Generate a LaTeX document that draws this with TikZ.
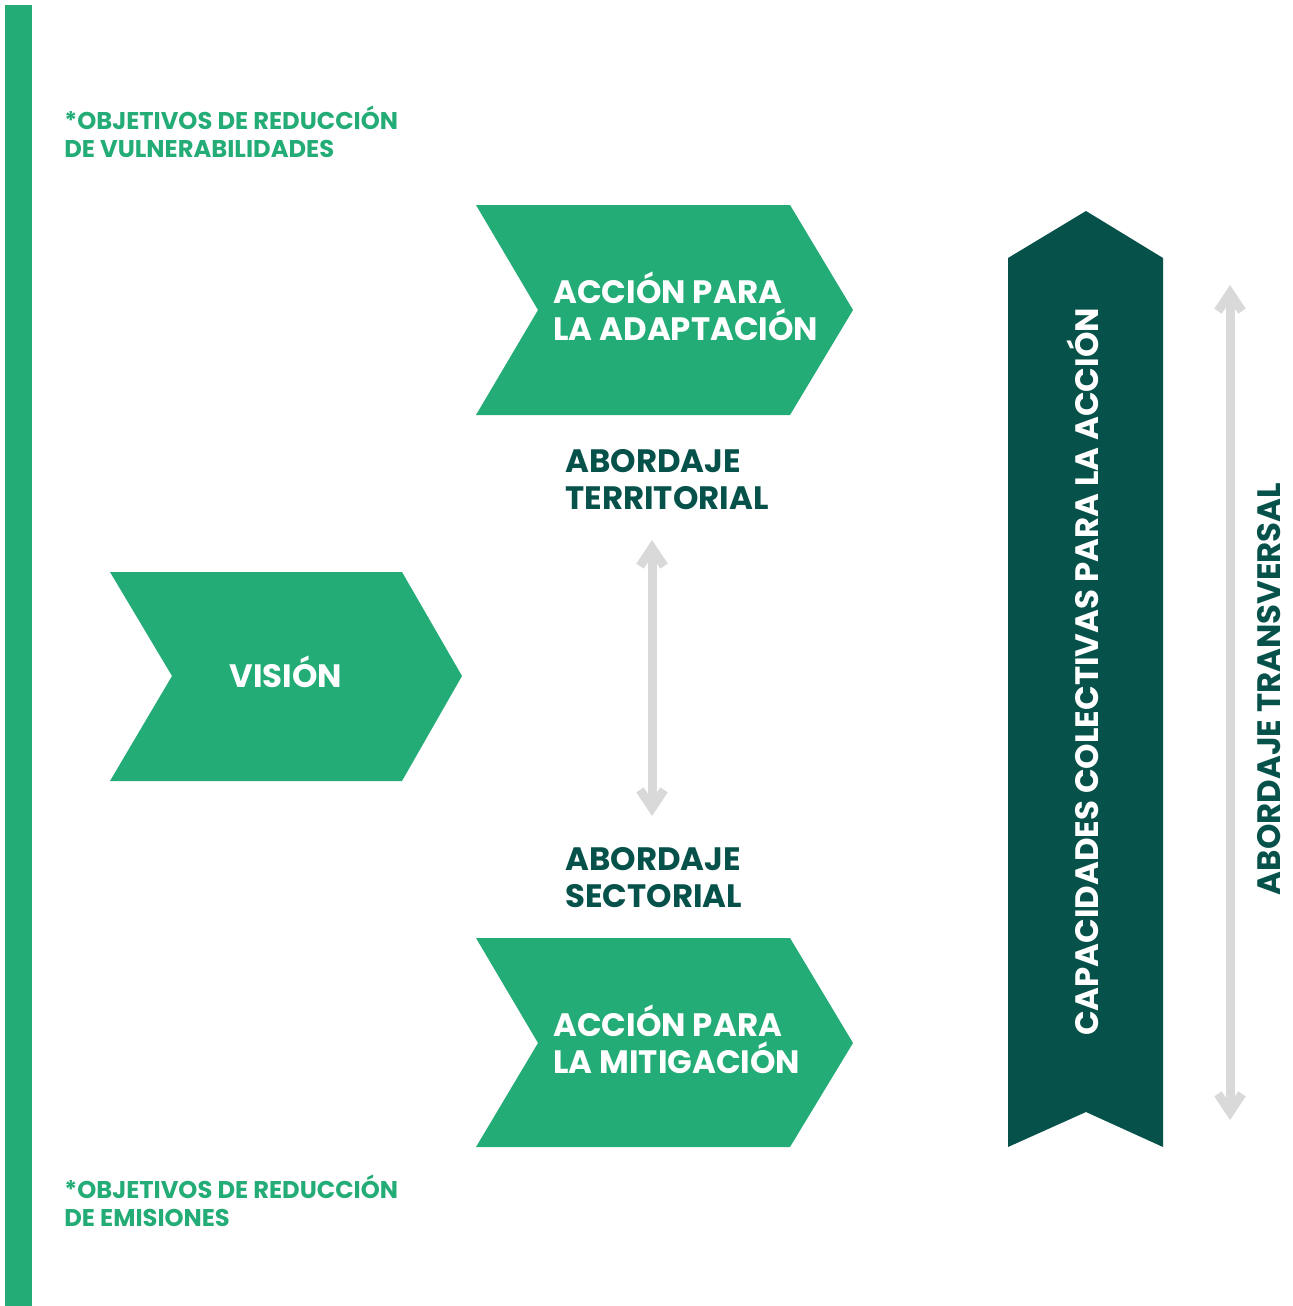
\documentclass[tikz,border=0pt]{standalone}
\usepackage{fontspec}
\setmainfont{Poppins}
\usetikzlibrary{arrows.meta}

\definecolor{leafgreen}{HTML}{23AC76}
\definecolor{darkteal}{HTML}{06524B}
\definecolor{softgray}{HTML}{D9D9D9}

\tikzset{
  chevron/.style={fill=leafgreen},
  banner/.style={fill=darkteal},
  boxtext/.style={text=white, font=\bfseries\fontsize{16.2}{18.5}\selectfont, align=left, anchor=west, inner sep=0pt},
  labeltext/.style={text=darkteal, font=\bfseries\fontsize{16.2}{18.5}\selectfont, align=left, anchor=west, inner sep=0pt},
  goaltext/.style={text=leafgreen, font=\bfseries\fontsize{12.1}{14}\selectfont, align=left, anchor=west, inner sep=0pt},
  twoway/.style={softgray, line width=4.5pt,
    {Straight Barb[length=9pt,width=12pt]}-{Straight Barb[length=9pt,width=12pt]}}
}

\begin{document}
\begin{tikzpicture}[x=0.5pt, y=-0.5pt]
  \useasboundingbox (0,0) rectangle (1293,1306);

  % side bar
  \fill[leafgreen] (5,5) rectangle (32,1306);

  % chevrons
  \fill[chevron] (476,205) -- (790,205) -- (853,310) -- (790,415) -- (476,415) -- (538,310) -- cycle;
  \fill[chevron] (110,572) -- (402,572) -- (462,676) -- (402,781) -- (110,781) -- (172,676) -- cycle;
  \fill[chevron] (476,938) -- (790,938) -- (853,1043) -- (790,1147) -- (476,1147) -- (538,1043) -- cycle;

  % dark banner
  \fill[banner] (1008,258) -- (1086,211) -- (1163,258) -- (1163,1147) -- (1086,1112) -- (1008,1147) -- cycle;

  % texts
  \node[goaltext] (goalvul) at (64,132) {*OBJETIVOS DE REDUCCIÓN\\DE VULNERABILIDADES};
  \node[goaltext] (goalemi) at (64,1201) {*OBJETIVOS DE REDUCCIÓN\\DE EMISIONES};

  \node[boxtext] (adapt) at (553,306) {ACCIÓN PARA\\LA ADAPTACIÓN};
  \node[boxtext, anchor=center] (vision) at (286,672) {VISIÓN};
  \node[boxtext] (mitig) at (553,1039) {ACCIÓN PARA\\LA MITIGACIÓN};

  \node[labeltext] (territ) at (565,480) {ABORDAJE\\TERRITORIAL};
  \node[labeltext] (sector) at (565,878) {ABORDAJE\\SECTORIAL};

  \node[boxtext, anchor=center, rotate=90] (capac) at (1083,672) {CAPACIDADES COLECTIVAS PARA LA ACCIÓN};
  \node[labeltext, anchor=center, rotate=90] (transv) at (1269,689) {ABORDAJE TRANSVERSAL};

  % arrows
  \coordinate (midtop) at (652,540);
  \coordinate (midbot) at (652,816);
  \coordinate (righttop) at (1230,285);
  \coordinate (rightbot) at (1230,1120);
  \draw[twoway] (midtop) -- (midbot);
  \draw[twoway] (righttop) -- (rightbot);
\end{tikzpicture}
\end{document}
